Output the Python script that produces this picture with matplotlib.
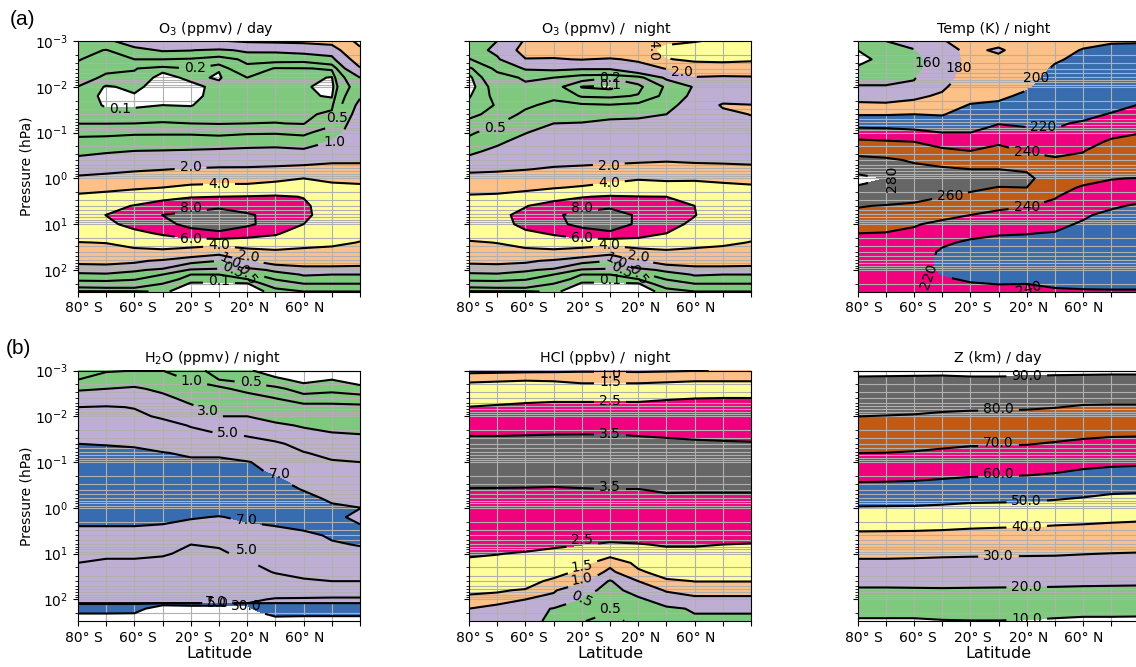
import numpy as np
import matplotlib
matplotlib.use("Agg")
import matplotlib.pyplot as plt
from matplotlib.ticker import LogLocator, NullFormatter
from matplotlib.transforms import ScaledTranslation

# latitude axis
lat_ticks = list(range(11))
lat_labels = ['80° S', '', '60° S', '', '20° S', '', '20° N', '', '60° N', '', '']
# the printed labels sit slightly right of their ticks
label_shift_px = [6, 0, 3.7, 0, 2.7, 0, 2, 0, 1, 0, 0]

# log10(pressure / hPa) of the rows, one list per table shape
log_p_common = [-3.0, -2.8, -2.6, -2.4, -2.2, -2.0, -1.8, -1.6, -1.4, -1.2, -1.0, -0.8, -0.6, -0.4, -0.2,
                0.0, 0.2, 0.4, 0.6, 0.8, 1.0, 1.2, 1.4, 1.6, 1.8, 2.0, 2.1, 2.2, 2.3, 2.47]
log_p_h2o = [-3.0, -2.8, -2.6, -2.4, -2.2, -2.0, -1.8, -1.6, -1.4, -1.2, -1.0, -0.8, -0.6, -0.4, -0.2,
             0.0, 0.2, 0.4, 0.6, 0.8, 1.0, 1.2, 1.4, 1.6, 1.8, 2.0, 2.08, 2.1, 2.2, 2.3, 2.47]
log_p_hcl = [-3.0, -2.9, -2.7, -2.4, -2.2, -1.6, -1.2, -0.6, -0.4, -0.2, 0.6, 0.8, 1.0, 1.2, 1.4, 1.6, 1.8, 2.0, 2.2, 2.47]
log_p_z = [-3.0, -2.913, -2.869, -2.258, -1.996, -1.559, -1.195, -0.918, -0.562, -0.322, -0.031,
           0.297, 0.515, 0.974, 1.112, 1.694, 1.752, 2.371, 2.458, 2.48]

# every inner list is one latitude profile, top of the atmosphere first
o3_day = [
    [.85, .65, .52, .4, .3, .195, .17, .15, .16, .195, .43, .6, .85, 1.15, 1.55, 2.25, 3.4, 4.35, 4.9, 5.3, 5.3, 4.8, 3.95, 3.2, 2.3, 1.3, .85, .6, .28, .09],
    [.9, .48, .36, .24, .16, .09, .07, .09, .13, .195, .42, .65, .95, 1.2, 1.7, 2.4, 3.6, 4.6, 5.4, 6.02, 5.7, 4.9, 4.05, 3.2, 2.35, 1.35, .9, .62, .3, .09],
    [1.25, .85, .5, .21, .16, .12, .09, .09, .13, .2, .45, .7, 1.0, 1.25, 1.85, 2.6, 3.8, 5.0, 6.1, 6.55, 6.4, 5.6, 4.6, 3.5, 2.2, 1.1, .75, .53, .3, .09],
    [1.4, 1.05, .5, .12, .07, .06, .07, .1, .15, .21, .45, .72, 1.02, 1.3, 1.95, 2.9, 4.0, 5.5, 6.9, 8.02, 7.4, 6.2, 4.9, 3.6, 1.8, .85, .5, .3, .2, .11],
    [1.5, 1.02, .45, .2, .12, .07, .07, .095, .15, .2, .45, .72, 1.05, 1.35, 2.1, 3.3, 4.4, 5.9, 7.4, 8.5, 8.6, 7.0, 5.0, 3.0, 1.15, .45, .2, .13, .09, .07],
    [1.95, .9, .3, .105, .09, .13, .14, .15, .17, .19, .42, .7, 1.1, 1.4, 2.2, 3.4, 4.5, 6.0, 7.7, 8.9, 9.0, 7.6, 4.7, 2.4, 1.0, .4, .2, .13, .09, .07],
    [2.1, 1.1, .6, .38, .2, .16, .14, .14, .16, .2, .46, .75, 1.15, 1.45, 2.2, 3.4, 4.5, 6.1, 7.4, 8.2, 8.3, 6.8, 4.9, 3.4, 1.9, .7, .38, .2, .09, .07],
    [2.15, 1.1, .62, .18, .15, .14, .14, .14, .16, .205, .47, .75, 1.2, 1.5, 2.3, 3.6, 4.9, 6.2, 7.0, 7.5, 7.3, 6.2, 5.0, 3.7, 2.5, 1.15, .72, .52, .3, .12],
    [2.2, 1.2, .6, .19, .14, .115, .115, .14, .165, .19, .42, .72, 1.1, 1.5, 2.5, 4.0, 5.0, 5.95, 6.3, 6.35, 6.0, 5.2, 4.5, 3.6, 2.6, 1.5, 1.05, .8, .5, .2],
    [2.4, 1.3, .8, .22, .09, .06, .09, .16, .24, .44, .7, 1.05, 1.3, 1.7, 2.7, 3.8, 4.3, 4.8, 5.1, 5.2, 5.0, 4.7, 4.3, 3.5, 2.6, 1.5, 1.0, .8, .5, .2],
    [4.5, 3.6, 2.6, 1.9, 1.0, .75, .95, 1.15, 1.3, 1.45, 1.5, 1.6, 1.7, 1.9, 2.24, 3.5, 4.4, 4.7, 4.9, 5.0, 4.8, 4.3, 3.95, 3.3, 2.5, 1.5, 1.0, .8, .5, .2],
]
o3_night = [
    [.85, .7, .47, .15, .07, .05, .09, .13, .17, .24, .43, .65, .85, 1.2, 1.7, 2.6, 3.45, 4.2, 4.7, 5.1, 5.2, 4.7, 3.8, 3.1, 2.25, 1.3, .85, .6, .28, .09],
    [1.0, 1.15, .9, .58, .35, .27, .24, .21, .24, .49, .7, .9, 1.15, 1.35, 1.8, 2.7, 3.5, 4.3, 5.0, 5.45, 5.25, 4.9, 4.05, 3.2, 2.3, 1.35, .9, .62, .3, .09],
    [2.1, 2.4, 1.95, 1.05, .55, .42, .39, .43, .6, .75, .98, 1.2, 1.4, 1.6, 1.95, 2.9, 3.7, 4.6, 5.9, 6.6, 6.5, 5.6, 4.6, 3.5, 2.2, 1.1, .75, .53, .3, .09],
    [2.6, 2.25, 1.95, 1.1, .5, .25, .43, .6, .82, 1.0, 1.2, 1.4, 1.5, 1.65, 2.15, 3.1, 3.9, 5.3, 6.9, 7.75, 7.5, 6.2, 4.9, 3.6, 1.8, .85, .5, .3, .2, .11],
    [3.0, 2.6, 2.03, 1.05, .25, .095, .17, .56, .85, 1.02, 1.2, 1.35, 1.5, 1.7, 2.25, 3.4, 4.15, 5.9, 7.4, 8.5, 8.5, 7.0, 5.0, 3.1, 1.15, .45, .2, .13, .09, .07],
    [3.3, 2.7, 1.9, 1.05, .2, .085, .15, .52, .9, 1.1, 1.25, 1.4, 1.55, 1.75, 2.4, 3.6, 4.55, 6.2, 7.7, 8.9, 9.0, 7.6, 4.7, 2.4, 1.0, .4, .2, .13, .09, .07],
    [3.5, 2.9, 2.15, 1.5, .35, .13, .22, .6, .9, 1.15, 1.3, 1.45, 1.6, 1.8, 2.6, 3.9, 4.7, 6.05, 7.2, 7.75, 7.7, 6.8, 5.0, 3.3, 1.9, .75, .38, .2, .09, .07],
    [3.7, 4.5, 3.9, 2.05, 1.1, .55, .6, .8, 1.0, 1.2, 1.4, 1.55, 1.7, 1.9, 2.6, 3.7, 4.9, 6.0, 6.5, 6.7, 6.5, 6.0, 5.0, 3.7, 2.5, 1.15, .72, .52, .3, .12],
    [3.9, 5.0, 4.3, 2.9, 1.9, 1.05, 1.15, 1.3, 1.4, 1.5, 1.6, 1.7, 1.8, 1.8, 2.55, 3.8, 4.7, 5.4, 6.0, 6.05, 5.7, 5.2, 4.5, 3.6, 2.6, 1.5, 1.05, .8, .5, .2],
    [4.3, 5.2, 4.3, 3.2, 1.7, 1.6, 1.6, 2.1, 1.75, 1.6, 1.65, 1.75, 1.8, 1.8, 2.4, 3.7, 4.4, 4.8, 5.1, 5.2, 5.0, 4.7, 4.25, 3.5, 2.6, 1.5, 1.0, .8, .5, .2],
    [4.3, 5.0, 4.2, 3.1, 1.8, 1.5, 1.7, 2.02, 2.03, 1.75, 1.7, 1.8, 1.85, 1.8, 2.25, 3.5, 4.3, 4.7, 4.9, 5.0, 4.8, 4.3, 3.95, 3.3, 2.5, 1.5, 1.0, .8, .5, .2],
]
temp_night = [
    [155, 140, 134, 143, 152, 162, 172, 185, 199, 213, 230, 244, 255, 265, 275, 285, 278, 270, 261, 255, 248, 240, 237, 235, 232, 230, 229, 228, 227, 226],
    [160, 152, 146, 150, 156, 161, 171, 184, 199, 213, 228, 242, 253, 263, 270, 280, 273, 268, 259, 254, 247, 239, 236, 234, 232, 230, 229, 228, 227, 226],
    [172, 158, 154, 155, 159, 163, 176, 187, 200, 212, 225, 240, 250, 258, 265, 270, 267, 263, 258, 252, 241.5, 236, 233, 228, 226, 226, 226, 226, 226, 225],
    [179, 175, 171, 170, 172, 177, 183, 192, 199, 208, 220, 235, 243, 253, 263, 268, 265, 260, 253, 244, 236, 228, 222, 218, 217, 218, 219, 222, 224, 226],
    [186, 183, 184, 186, 189, 192, 195, 201, 207, 214, 220, 230, 240, 250, 260, 267, 263, 256, 250, 240, 231, 223, 218, 215, 214, 215, 216, 218, 221, 227],
    [184, 178, 184, 188, 191, 194, 197, 203, 210, 219.5, 226, 237, 247, 254, 260, 265, 259.5, 250, 243, 236, 229, 221, 216, 214, 213, 214, 215, 217, 219.5, 226],
    [188, 187, 190, 192, 195, 198.5, 203, 207, 212, 218, 224, 232, 239.5, 249, 258.5, 264, 260, 250, 240.5, 233, 226, 220.5, 215, 212, 212, 213, 214, 216, 219.5, 241],
    [192, 194, 198.5, 202, 204, 206, 208, 211, 214, 218, 222, 228, 234, 243.5, 247, 250, 248, 241, 236, 232, 224, 219, 216, 214, 213, 213, 214, 215, 217, 223],
    [196, 201, 203, 205, 206, 208, 210, 213, 216, 222, 226, 232, 239.5, 243, 247, 246.5, 237.5, 232, 227, 222, 218, 215, 214, 213, 212, 212, 213, 214, 216, 222],
    [199, 203, 205, 207, 208, 210, 212, 216, 221, 226, 235, 243, 247, 250, 249, 240.5, 236, 231, 222, 216, 214, 213, 212, 212, 211, 211, 212, 213, 215, 222],
    [199, 204, 206, 208, 209, 211, 215, 220.5, 225, 230, 239.5, 245, 249, 251, 249, 239.5, 234, 224, 218, 214, 213, 212, 212, 211, 211, 211, 212, 213, 215, 222],
]
h2o_night = [
    [.8, 1.0, 2.8, 4.0, 5.0, 5.4, 5.8, 6.4, 7.0, 7.3, 7.5, 7.6, 7.7, 7.7, 7.6, 7.5, 7.3, 7.0, 6.5, 6.0, 5.4, 5.0, 4.8, 4.7, 4.7, 4.8, 4.95, 7.1, 12, 29, 60],
    [.85, 1.9, 3.0, 4.2, 5.1, 5.4, 5.8, 6.4, 6.95, 7.3, 7.5, 7.6, 7.7, 7.7, 7.6, 7.5, 7.3, 7.0, 6.5, 5.9, 5.2, 4.8, 4.7, 4.6, 4.6, 4.8, 4.95, 7.1, 12, 29, 60],
    [1.0, 2.4, 3.2, 4.3, 4.95, 5.3, 5.7, 6.3, 6.85, 7.3, 7.5, 7.6, 7.7, 7.7, 7.6, 7.5, 7.3, 7.0, 6.4, 5.8, 5.15, 4.85, 4.7, 4.6, 4.6, 4.8, 4.95, 7.1, 20, 29.8, 80],
    [1.0, 1.8, 2.7, 3.4, 4.0, 4.8, 5.6, 6.1, 6.6, 7.05, 7.4, 7.6, 7.7, 7.7, 7.6, 7.5, 7.3, 6.9, 6.4, 5.9, 5.1, 4.7, 4.6, 4.5, 4.5, 4.7, 4.95, 25, 45, 60, 100],
    [.65, .95, 1.6, 2.5, 3.3, 3.9, 4.9, 5.6, 6.1, 6.85, 7.2, 7.4, 7.6, 7.7, 7.7, 7.6, 7.1, 6.6, 5.9, 5.0, 4.8, 4.7, 4.6, 4.5, 4.5, 4.7, 4.95, 22, 45, 60, 100],
    [.35, .5, 1.2, 1.9, 2.4, 3.0, 3.8, 5.2, 5.8, 6.85, 7.2, 7.4, 7.5, 7.6, 7.6, 7.4, 6.95, 6.2, 5.7, 5.05, 4.9, 4.7, 4.6, 4.5, 4.5, 4.7, 4.95, 22, 45, 60, 100],
    [.32, .42, .7, 1.5, 2.0, 3.0, 3.4, 4.9, 5.5, 6.1, 7.1, 7.3, 7.4, 7.5, 7.5, 7.3, 7.2, 6.8, 6.0, 5.5, 5.15, 4.9, 4.7, 4.6, 4.6, 4.8, 4.95, 28, 35, 50, 100],
    [.22, .34, .56, .98, 1.7, 2.5, 3.3, 4.3, 5.3, 5.9, 6.4, 6.8, 7.2, 7.4, 7.4, 7.3, 7.2, 7.0, 6.5, 6.0, 5.6, 5.3, 5.05, 4.6, 4.5, 5.1, 7.0, 7.5, 9, 14, 55],
    [.2, .25, .4, .6, 1.3, 2.0, 2.85, 3.6, 4.4, 5.1, 5.7, 6.2, 6.6, 6.95, 7.4, 7.4, 7.3, 7.15, 6.8, 6.3, 5.8, 5.4, 5.2, 4.9, 4.6, 5.1, 7.0, 7.5, 9, 20, 50],
    [.2, .3, .45, .6, 1.3, 1.9, 2.5, 3.2, 3.8, 4.5, 5.2, 5.6, 6.0, 6.4, 6.8, 7.25, 7.3, 7.2, 7.1, 6.9, 6.4, 5.9, 5.5, 5.0, 4.7, 5.1, 7.0, 7.5, 9, 20, 50],
    [.15, .22, .37, .6, 1.2, 1.7, 2.2, 3.05, 3.6, 4.1, 5.0, 5.3, 5.6, 6.0, 6.5, 7.02, 6.7, 7.1, 7.2, 7.05, 6.7, 6.2, 5.6, 5.0, 4.7, 5.1, 7.0, 7.5, 9, 20, 50],
]
hcl_night = [
    [.8, 1.15, 1.6, 2.2, 2.52, 3.48, 3.9, 3.8, 3.43, 3.2, 2.9, 2.75, 2.58, 2.35, 2.1, 1.85, 1.6, 1.35, 1.0, .75],
    [.82, 1.2, 1.65, 2.25, 2.6, 3.48, 3.9, 3.8, 3.42, 3.2, 2.9, 2.72, 2.52, 2.3, 2.05, 1.8, 1.55, 1.3, .7, .7],
    [.85, 1.25, 1.7, 2.3, 2.7, 3.49, 3.9, 3.8, 3.40, 3.2, 2.9, 2.68, 2.44, 2.2, 2.0, 1.75, 1.45, 1.0, .68, .6],
    [.9, 1.2, 1.68, 2.35, 2.75, 3.5, 3.9, 3.8, 3.35, 3.15, 2.85, 2.62, 2.28, 1.95, 1.75, 1.35, 1.05, .85, .52, .5],
    [.95, 1.15, 1.55, 2.35, 2.75, 3.51, 3.9, 3.8, 3.43, 3.2, 2.8, 2.52, 2.1, 1.7, 1.35, 1.05, .62, .49, .48, .47],
    [.95, 1.15, 1.55, 2.35, 2.75, 3.51, 3.9, 3.8, 3.48, 3.2, 2.7, 2.42, 1.7, 1.1, .9, .5, .47, .47, .47, .40],
    [.93, 1.15, 1.55, 2.35, 2.75, 3.48, 3.85, 3.75, 3.48, 3.2, 2.7, 2.47, 2.1, 1.65, 1.4, 1.0, .62, .5, .5, .52],
    [.95, 1.2, 1.6, 2.42, 2.85, 3.46, 3.8, 3.75, 3.6, 3.3, 2.72, 2.55, 2.3, 2.1, 1.75, 1.4, 1.05, .65, .5, .5],
    [.98, 1.25, 1.65, 2.48, 2.9, 3.44, 3.75, 3.75, 3.58, 3.3, 2.72, 2.55, 2.3, 2.15, 1.9, 1.51, 1.2, .85, .56, .5],
    [1.02, 1.25, 1.65, 2.5, 2.95, 3.42, 3.75, 3.75, 3.58, 3.3, 2.75, 2.5, 2.3, 2.15, 1.95, 1.51, 1.2, .85, .56, .5],
    [1.03, 1.25, 1.65, 2.5, 2.95, 3.4, 3.75, 3.75, 3.58, 3.3, 2.75, 2.46, 2.3, 2.15, 1.95, 1.51, 1.2, .85, .56, .5],
]
z_day = [
    [91.8, 90.6, 90, 83.6, 80, 75, 70, 64.9, 60, 54, 50, 43, 40, 31.9, 30, 20.6, 19.8, 10.5, 9.3, 9],
    [91.7, 90.5, 89.9, 83.2, 79.6, 74.8, 69.8, 64.7, 59.8, 53.9, 49.9, 42.9, 39.9, 31.9, 30, 20.6, 19.8, 10.5, 9.3, 9],
    [91.6, 90.4, 89.8, 82.8, 79.2, 74.2, 69.2, 64.4, 59.5, 53.8, 49.8, 42.8, 39.8, 31.7, 29.8, 20.7, 19.9, 10.5, 9.3, 9],
    [91.5, 90.3, 89.7, 82, 78.4, 73.2, 68.2, 63.6, 58.7, 53.3, 49.3, 42.5, 39.5, 31.4, 29.5, 20.8, 20, 11, 9.8, 9.5],
    [91.8, 90.6, 90, 81.6, 78, 72.4, 67.4, 62.9, 58, 52.7, 48.7, 42, 39, 31.2, 29.3, 20.7, 19.9, 11.2, 10, 9.7],
    [91.8, 90.6, 90, 81.5, 77.9, 72.2, 67.2, 62.6, 57.7, 52.5, 48.5, 41.7, 38.7, 31.1, 29.2, 20.6, 19.8, 11.2, 10, 9.7],
    [91.6, 90.4, 89.8, 81.3, 77.7, 72, 67, 62.4, 57.5, 52.3, 48.3, 41.5, 38.5, 31, 29.1, 20.5, 19.7, 11, 9.8, 9.5],
    [91.4, 90.2, 89.6, 80.8, 77.2, 71.2, 66.2, 61.7, 56.8, 51.7, 47.7, 41, 38, 30.9, 29, 20.4, 19.6, 10.5, 9.3, 9],
    [91.3, 90.1, 89.5, 80.1, 76.5, 70.5, 65.5, 60.7, 55.8, 51, 47, 40.7, 37.7, 30.5, 28.6, 20.2, 19.4, 10.1, 8.9, 8.6],
    [91.2, 90, 89.4, 80, 76.4, 70.1, 65.1, 60.2, 55.3, 50.2, 46.2, 40.3, 37.3, 30.2, 28.3, 20.1, 19.3, 10.1, 8.9, 8.6],
    [91.2, 90, 89.4, 80, 76.4, 70, 65, 60, 55.1, 50, 46, 40, 37, 30, 28.1, 20, 19.2, 10, 8.8, 8.5],
]

# band colours (Accent palette)
GREEN, PURPLE, ORANGE, YELLOW = '#7fc97f', '#beaed4', '#fdc086', '#ffff99'
BLUE, PINK, BROWN, GRAY = '#386cb0', '#f0027f', '#bf5b17', '#666666'

W, H = 1136, 667
fig = plt.figure(figsize=(W / 100, H / 100), dpi=100)
plt.rcParams['font.size'] = 10


def add_panel(left, top, values, log_p, fill_levels, fill_colors, line_levels, labels, title,
              fmt='%.1f', title_shift=0):
    ax = fig.add_axes([left / W, 1 - (top + 250.5) / H, 282 / W, 250.5 / H])
    pressure = 10.0 ** np.array(log_p)
    field = np.array(values).T
    ax.contourf(lat_ticks, pressure, field, levels=fill_levels, colors=fill_colors)
    cs = ax.contour(lat_ticks, pressure, field, levels=line_levels, colors='k', linewidths=1.5)
    ax.set_yscale('log')
    ax.set_ylim(10 ** 2.47, 1e-3)
    ax.set_xlim(0, 10)
    ax.set_xticks(lat_ticks)
    ax.set_xticklabels(lat_labels)
    for label, shift in zip(ax.get_xticklabels(), label_shift_px):
        label.set_transform(label.get_transform() + ScaledTranslation(shift / 100, 0, fig.dpi_scale_trans))
    ax.yaxis.set_major_locator(LogLocator(base=10, numticks=12))
    ax.yaxis.set_minor_locator(LogLocator(base=10, subs=np.arange(2, 10) * 0.1, numticks=12))
    ax.yaxis.set_minor_formatter(NullFormatter())
    ax.grid(True, which='both')
    ax.set_title(title, fontsize=10.3, x=0.5 + title_shift / 282)
    # labels go on after the log scale is set, the nearest line is found on screen
    spots = [(s[0], 10.0 ** s[1]) for s in labels]
    ax.clabel(cs, fmt=fmt, fontsize=10, manual=spots)
    # put each text back where the reference has it, most of them upright
    for text, s, spot in zip(cs.labelTexts, labels, spots):
        text.set_position(spot)
        text.set_rotation(s[2] if len(s) > 2 else 0)
    return ax


o3_fill = [0.1, 1, 2, 4, 6, 8, 12]
o3_colors = [GREEN, PURPLE, ORANGE, YELLOW, PINK, GRAY]
o3_lines = [0.1, 0.2, 0.5, 1, 2, 4, 6, 8]

ax1 = add_panel(78, 41, o3_day, log_p_common, o3_fill, o3_colors, o3_lines,
                [(4.14, -2.42), (1.48, -1.52), (9.17, -1.31), (9.1, -0.8), (3.99, -0.24), (5, 0.12),
                 (3.99, 0.64), (3.99, 1.32), (5, 1.45), (6.04, 1.7, -8), (5.4, 1.8, -25), (5.5, 2.0, -25), (6, 2.1, -50), (5, 2.23)],
                'O$_3$ (ppmv) / day', title_shift=-3)
ax2 = add_panel(469, 41, o3_night, log_p_common, o3_fill, o3_colors, o3_lines,
                [(6.54, -2.8, -90), (7.54, -2.32), (5, -2.19), (5, -2.05), (0.92, -1.11), (4.96, -0.28), (4.96, 0.09),
                 (4, 0.65), (4, 1.31), (4.96, 1.45), (6, 1.7, -8), (5.2, 1.8, -25), (5.4, 2.0, -25), (6, 2.1, -50), (5, 2.22)],
                'O$_3$ (ppmv) /  night', title_shift=-4)
ax3 = add_panel(857.5, 41, temp_night, log_p_common, [140, 160, 180, 200, 220, 240, 260, 280],
                [GREEN, PURPLE, ORANGE, BLUE, PINK, BROWN, GRAY], [140, 160, 180, 200, 220, 240, 260, 280],
                [(2.5, -2.53), (3.6, -2.42), (6.33, -2.2), (6.6, -1.12), (6, -0.58), (1.24, 0.02, 90), (3.28, 0.38),
                 (6, 0.63), (2.54, 2.13, 70), (6.06, 2.42, 15)],
                'Temp (K) / night', fmt='%d', title_shift=-5)
ax4 = add_panel(78, 370.5, h2o_night, log_p_h2o, [0.3, 3, 7, 30], [GREEN, PURPLE, BLUE],
                [0.3, 0.5, 1, 3, 5, 7, 30],
                [(4.02, -2.76), (6.12, -2.74), (4.62, -2.12), (5.33, -1.63), (7.14, -0.74), (5.98, 0.27), (5.98, 0.93),
                 (4.97, 2.07), (4.9, 2.05), (5.98, 2.14)],
                'H$_2$O (ppmv) / night', title_shift=-6)
ax5 = add_panel(469, 370.5, hcl_night, log_p_hcl, [0.05, 0.54, 1, 1.5, 2.5, 3.5, 5],
                [GREEN, PURPLE, ORANGE, YELLOW, PINK, GRAY], [0.46, 0.54, 1, 1.5, 2.5, 3.5],
                [(5, -2.93), (5, -2.75), (5, -2.33), (5, -1.61), (5, -0.45), (4, 0.71), (4, 1.27, 8), (4, 1.55, 10), (4, 1.99, -25), (5, 2.2)],
                'HCl (ppbv) /  night', title_shift=-5)
ax6 = add_panel(857.5, 370.5, z_day, log_p_z, [10, 20, 30, 40, 50, 60, 70, 80, 90],
                [GREEN, PURPLE, ORANGE, YELLOW, BLUE, PINK, BROWN, GRAY], [10, 20, 30, 40, 50, 60, 70, 80, 90],
                [(6, -2.87), (5, -2.15), (5, -1.41), (5, -0.74), (6, -0.16), (6, 0.41), (5, 1.04), (6, 1.73), (6, 2.42)],
                'Z (km) / day', title_shift=-1)

for ax in (ax1, ax4):
    ax.set_ylabel('Pressure (hPa)', fontsize=10, labelpad=1)
for ax in (ax2, ax3, ax5, ax6):
    ax.tick_params(axis='y', which='both', labelleft=False)
for ax in (ax4, ax5, ax6):
    ax.set_xlabel('Latitude', fontsize=11.5, labelpad=1)

fig.text(10 / W, 1 - 25 / H, '(a)', fontsize=15, family='Liberation Sans')
fig.text(6 / W, 1 - 354 / H, '(b)', fontsize=15, family='Liberation Sans')

fig.savefig('out.png', dpi=100)
